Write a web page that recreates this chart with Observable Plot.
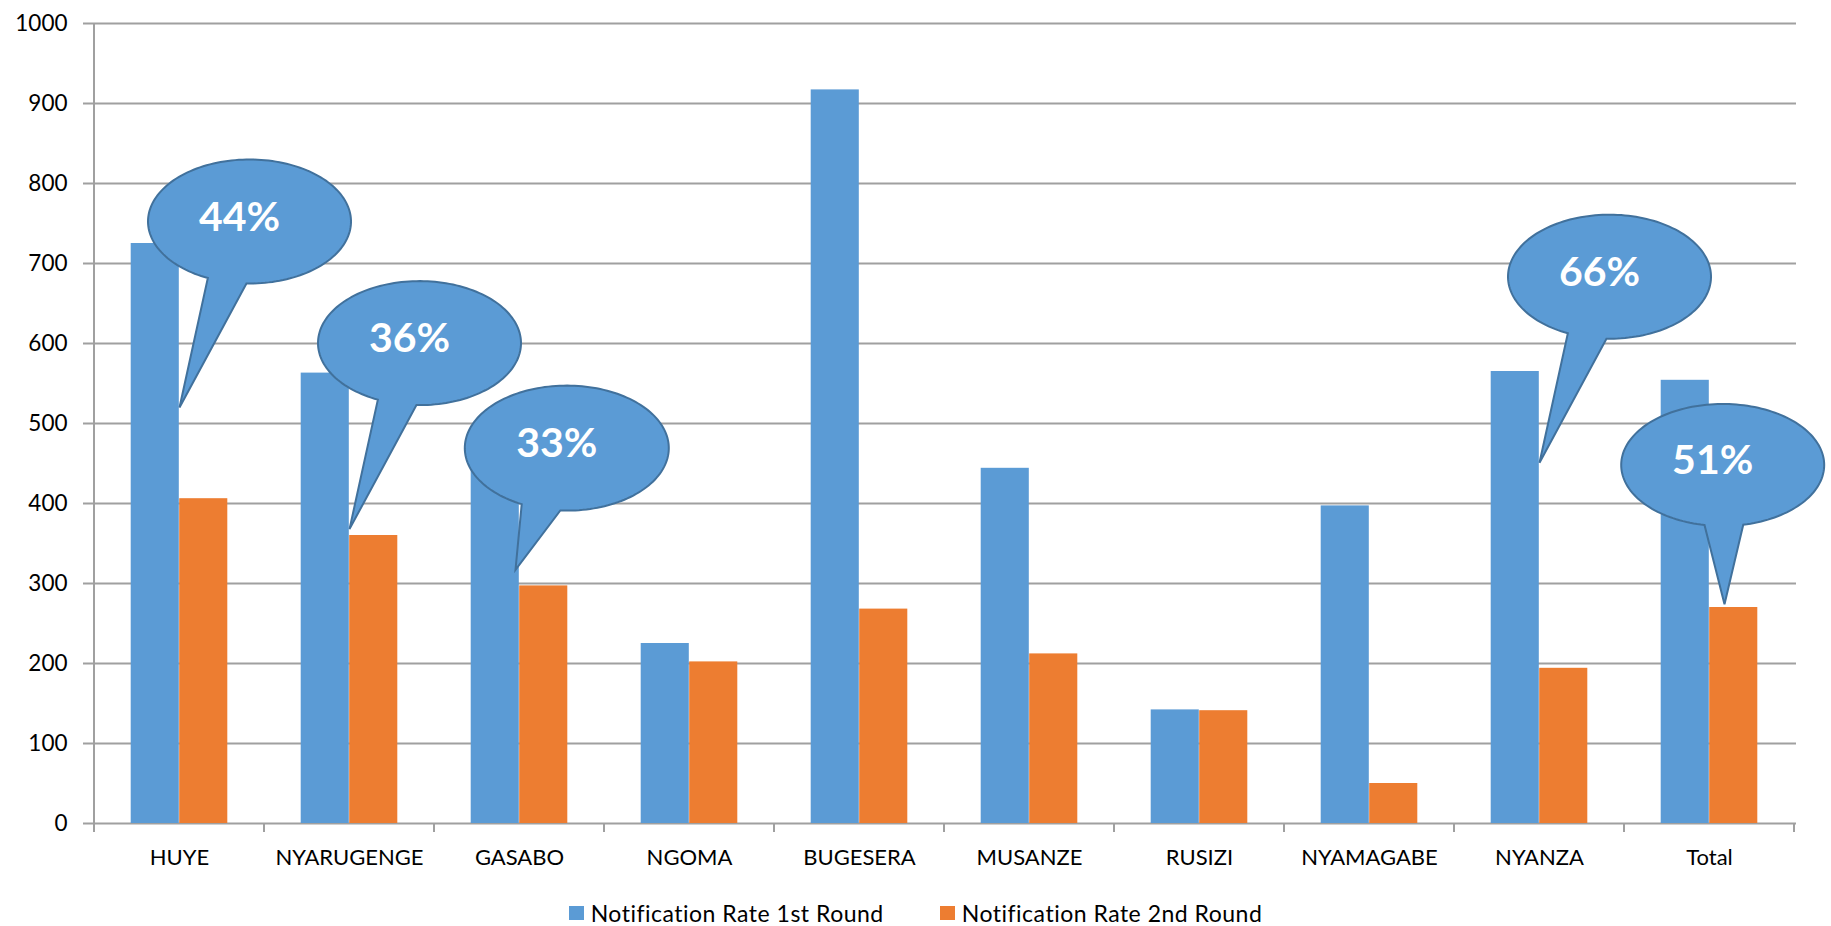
<!DOCTYPE html>
<html>
<head>
<meta charset="utf-8">
<script src="https://cdn.jsdelivr.net/npm/d3@7"></script>
<script src="https://cdn.jsdelivr.net/npm/@observablehq/plot@0.6"></script>
<style>
html, body { margin: 0; padding: 0; background: #fff; }
#wrap { position: relative; width: 1831px; height: 926px; }
#legend { position: absolute; left: 0; top: 902px; width: 1831px; display: flex; justify-content: center; gap: 56px;
  font-family: Lato, sans-serif; font-size: 23px; line-height: 22px; letter-spacing: 0.5px; color: #000; }
#legend .item { display: flex; align-items: center; }
#legend .sw { display: inline-block; width: 15px; height: 14px; margin-right: 7px; }
</style>
</head>
<body>
<div id="wrap"></div>
<script>
// ---- data ----
const districts = ["HUYE", "NYARUGENGE", "GASABO", "NGOMA", "BUGESERA", "MUSANZE", "RUSIZI", "NYAMAGABE", "NYANZA", "Total"];
const round1 = [725, 563, 444, 225, 917, 444, 142, 397, 565, 554];
const round2 = [406, 360, 297, 202, 268, 212, 141, 50, 194, 270];
const seriesNames = ["Notification Rate 1st Round", "Notification Rate 2nd Round"];
const seriesColors = ["#5B9BD5", "#ED7D31"];
const yTicks = [0, 100, 200, 300, 400, 500, 600, 700, 800, 900, 1000];

const calloutDistricts = ["HUYE", "NYARUGENGE", "GASABO", "NYANZA", "Total"];
const calloutLabels = ["44%", "36%", "33%", "66%", "51%"];
const calloutTips = [520, 368, 317, 451, 274];
const calloutShapes = ["slant", "slant", "short", "slant", "down"];

// ---- layout / style ----
const W = 1831, H = 890;
const mL = 92, mR = 35, mT = 23, mB = 67;
const gridColor = "#A0A0A0";
const calloutStroke = "#41719C";
const bw = (W - mL - mR) / districts.length;
const outerInset = bw * 0.2154, innerInset = bw * 0.5;

const shapes = {
  slant: {tip: [0, 0], c: [70, -186], rx: 101.5, ry: 62, b1: [29.5, -131], b2: [67, -125]},
  short: {tip: [-4, 0], c: [47.3, -121.8], rx: 102, ry: 62.5, b1: [3.7, -67.6], b2: [41, -61]},
  down: {tip: [15, 0], c: [13.2, -139.3], rx: 101.5, ry: 61, b1: [-4.8, -80], b2: [34.2, -78.3]}
};

function calloutSymbol(s) {
  return {
    draw(ctx) {
      const ang = p => Math.atan2((p[1] - s.c[1]) / s.ry, (p[0] - s.c[0]) / s.rx);
      const a1 = ang(s.b1), a2 = ang(s.b2);
      const start = Math.max(a1, a2), end = Math.min(a1, a2) + 2 * Math.PI;
      const N = 160;
      for (let i = 0; i <= N; i++) {
        const t = start + (end - start) * i / N;
        const px = s.c[0] + s.rx * Math.cos(t), py = s.c[1] + s.ry * Math.sin(t);
        if (i) ctx.lineTo(px, py); else ctx.moveTo(px, py);
      }
      ctx.lineTo(s.tip[0], s.tip[1]);
      ctx.closePath();
    }
  };
}

const rows1 = districts.map((d, i) => ({district: d, value: round1[i]}));
const rows2 = districts.map((d, i) => ({district: d, value: round2[i]}));
const callouts = calloutDistricts.map((d, i) => ({district: d, label: calloutLabels[i], tip: calloutTips[i], shape: calloutShapes[i]}));

function axisFrame(index, scales) {
  const x = scales.x, y = scales.y;
  const y0 = y(0), yTop = y(1000);
  const edges = districts.map(d => x(d));
  edges.push(x(districts[districts.length - 1]) + x.bandwidth());
  const g = d3.create("svg:g").attr("stroke", gridColor).attr("stroke-width", 2);
  g.append("line").attr("x1", edges[0]).attr("x2", edges[0]).attr("y1", yTop).attr("y2", y0 + 9);
  for (const e of edges.slice(1)) {
    g.append("line").attr("x1", e).attr("x2", e).attr("y1", y0).attr("y2", y0 + 9);
  }
  return g.node();
}

const calloutMarks = Object.keys(shapes).flatMap(k => {
  const s = shapes[k];
  const data = callouts.filter(c => c.shape === k);
  return [
    Plot.dot(data, {x: "district", y: "tip", r: 10, symbol: calloutSymbol(s),
      fill: seriesColors[0], stroke: calloutStroke, strokeWidth: 2}),
    Plot.text(data, {x: "district", y: "tip", text: "label", dx: s.c[0] - 10, dy: s.c[1] - 4,
      fill: "white", fontWeight: "bold", fontSize: 41, textAnchor: "middle", lineAnchor: "middle"})
  ];
});

const chart = Plot.plot({
  width: W, height: H,
  marginLeft: mL, marginRight: mR, marginTop: mT, marginBottom: mB,
  style: {fontFamily: "Lato, sans-serif", background: "white", color: "black"},
  x: {domain: districts, padding: 0, label: null},
  y: {domain: [0, 1000], label: null},
  marks: [
    Plot.ruleY(yTicks, {y: d => d, stroke: gridColor, strokeWidth: 2, insetLeft: -9}),
    axisFrame,
    Plot.barY(rows1, {x: "district", y: "value", fill: seriesColors[0], insetLeft: outerInset, insetRight: innerInset}),
    Plot.barY(rows2, {x: "district", y: "value", fill: seriesColors[1], insetLeft: innerInset, insetRight: outerInset}),
    Plot.axisY({ticks: yTicks, tickFormat: d => String(d), tickSize: 0, tickPadding: 25, fontSize: 22.5, color: "black", label: null}),
    Plot.axisX({tickSize: 0, tickPadding: 26, fontSize: 22, color: "black", label: null}),
    ...calloutMarks
  ]
});

const wrap = document.getElementById("wrap");
wrap.appendChild(chart);

const legend = document.createElement("div");
legend.id = "legend";
seriesNames.forEach((name, i) => {
  const item = document.createElement("div");
  item.className = "item";
  const sw = document.createElement("span");
  sw.className = "sw";
  sw.style.background = seriesColors[i];
  item.appendChild(sw);
  item.appendChild(document.createTextNode(name));
  legend.appendChild(item);
});
wrap.appendChild(legend);
</script>
</body>
</html>
